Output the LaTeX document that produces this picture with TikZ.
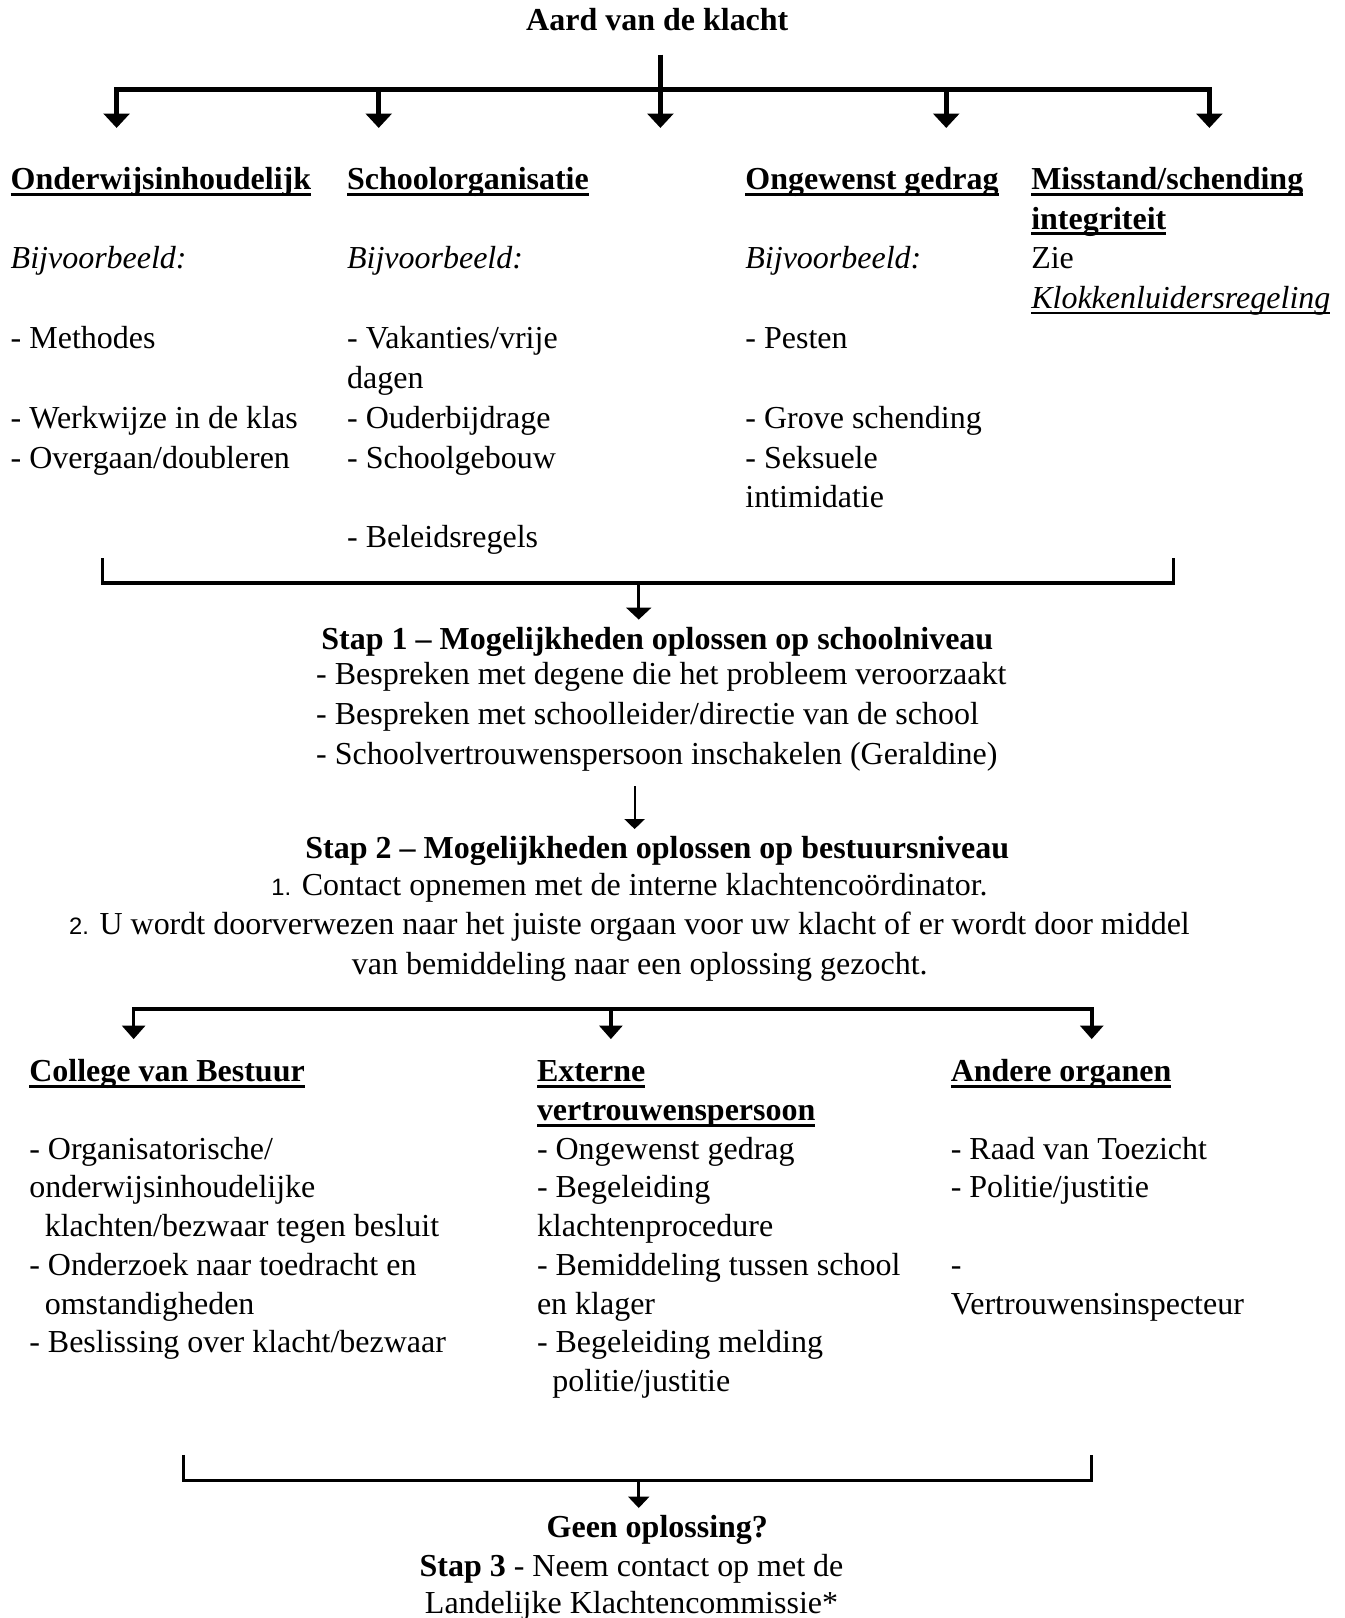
\documentclass[tikz,border=0pt]{standalone}
\usepackage{fontspec}
\setmainfont{Liberation Serif}
\newfontfamily\nrfont{Liberation Sans}
\usetikzlibrary{arrows.meta}
\newsavebox{\kopbox}
\newcommand{\kop}[1]{\sbox{\kopbox}{\bfseries #1}\rlap{\rule[-3.1pt]{\wd\kopbox}{1.45pt}}\usebox{\kopbox}}
\newcommand{\regeling}[1]{\sbox{\kopbox}{\itshape #1}\rlap{\rule[-2.6pt]{\wd\kopbox}{0.9pt}}\usebox{\kopbox}}
\newcommand{\nr}[1]{{\nrfont\fontsize{11.5}{12}\selectfont #1}}
\newcommand{\eerst}{\rule{0pt}{12pt}}
\begin{document}
\begin{tikzpicture}[x=0.5pt,y=-0.5pt,
    tekst/.style={inner xsep=0pt, font=\fontsize{15.5}{19.3}\selectfont},
    kolom/.style={tekst, anchor=north west, inner ysep=0pt, align=left},
    laag/.style={font=\fontsize{15.5}{18.75}\selectfont},
    vet/.style={tekst, anchor=base, font=\fontsize{15.5}{19.3}\selectfont\bfseries},
    midden/.style={tekst, anchor=north, inner ysep=0pt, align=center}]
  \useasboundingbox[fill=white] (0,0) rectangle (1303,1568);

  \node[vet] (aard) at (637,29.5) {Aard van de klacht};
  \coordinate (stam) at (640,53);
  \foreach \x [count=\i] in {113,367,640,917,1172} {
    \coordinate (t\i) at (\x,87);
    \coordinate (p\i) at (\x,124);
  }
  \draw[line width=2.4pt] (stam) -- (t3);
  \draw[line width=2.4pt, line cap=rect] (t1) -- (t5);
  \foreach \i in {1,...,5}
    \draw[line width=2.4pt, -{Triangle[width=12.5pt,length=7pt]}] (t\i) -- (p\i);

  \node[kolom] (onderwijs) at (10,159) {\eerst\kop{Onderwijsinhoudelijk}\\[19.3pt]
    \textit{Bijvoorbeeld:}\\[19.3pt] - Methodes\\[19.3pt] - Werkwijze in de klas\\ - Overgaan/doubleren};
  \node[kolom] (school) at (336,159) {\eerst\kop{Schoolorganisatie}\\[19.3pt]
    \textit{Bijvoorbeeld:}\\[19.3pt] - Vakanties/vrije\\ dagen\\ - Ouderbijdrage\\ - Schoolgebouw\\[19.3pt] - Beleidsregels};
  \node[kolom] (gedrag) at (722,159) {\eerst\kop{Ongewenst gedrag}\\[19.3pt]
    \textit{Bijvoorbeeld:}\\[19.3pt] - Pesten\\[19.3pt] - Grove schending\\ - Seksuele\\ intimidatie};
  \node[kolom] (misstand) at (999,159) {\eerst\kop{Misstand/schending}\\ \kop{integriteit}\\ Zie\\ \regeling{Klokkenluidersregeling}};

  \coordinate (h1) at (99,541);
  \coordinate (h2) at (99,565);
  \coordinate (h3) at (1137,565);
  \coordinate (h4) at (1137,541);
  \coordinate (m1) at (619,565);
  \draw[line width=1.6pt] (h1) -- (h2) -- (h3) -- (h4);
  \node[vet] (stap1) at (637,629) {Stap 1 – Mogelijkheden oplossen op schoolniveau};
  \draw[line width=1.6pt, -{Triangle[width=12pt,length=5.8pt]}] (m1) -- (m1 |- stap1.north);

  \node[kolom] (lijst1) at (306,639) {\eerst- Bespreken met degene die het probleem veroorzaakt\\
    - Bespreken met schoolleider/directie van de school\\ - Schoolvertrouwenspersoon inschakelen (Geraldine)};
  \coordinate (d1) at (615,762);
  \node[vet] (stap2) at (637,832) {Stap 2 – Mogelijkheden oplossen op bestuursniveau};
  \draw[line width=1pt, -{Triangle[width=9.7pt,length=4.8pt]}] (d1) -- (d1 |- stap2.north);
  \node[midden] (lijst2) at (610,843) {\eerst\nr{1.} Contact opnemen met de interne klachtencoördinator.\\
    \nr{2.} U wordt doorverwezen naar het juiste orgaan voor uw klacht of er wordt door middel\\
    \hspace*{10pt}van bemiddeling naar een oplossing gezocht.};

  \foreach \x [count=\i] in {129.5,592,1058} {
    \coordinate (f\i) at (\x,978);
    \coordinate (g\i) at (\x,1007);
  }
  \draw[line width=1.7pt, line cap=rect] (f1) -- (f3);
  \foreach \i in {1,2,3}
    \draw[line width=1.7pt, -{Triangle[width=11pt,length=6.5pt]}] (f\i) -- (g\i);

  \node[kolom, laag] (college) at (28,1024) {\eerst\kop{College van Bestuur}\\[18.75pt]
    - Organisatorische/\\ onderwijsinhoudelijke\\ \hspace*{7.5pt}klachten/bezwaar tegen besluit\\
    - Onderzoek naar toedracht en\\ \hspace*{7.5pt}omstandigheden\\ - Beslissing over klacht/bezwaar};
  \node[kolom, laag] (extern) at (520,1024) {\eerst\kop{Externe}\\ \kop{vertrouwenspersoon}\\
    - Ongewenst gedrag\\ - Begeleiding\\ klachtenprocedure\\ - Bemiddeling tussen school\\
    en klager\\ - Begeleiding melding\\ \hspace*{7.5pt}politie/justitie};
  \node[kolom, laag] (andere) at (921,1024) {\eerst\kop{Andere organen}\\[18.75pt]
    - Raad van Toezicht\\ - Politie/justitie\\[18.75pt] -\\ Vertrouwensinspecteur};

  \coordinate (b1) at (177.5,1410);
  \coordinate (b2) at (177.5,1435);
  \coordinate (b3) at (1058,1435);
  \coordinate (b4) at (1058,1410);
  \coordinate (b5) at (619,1435);
  \draw[line width=1.35pt] (b1) -- (b2) -- (b3) -- (b4);
  \node[vet] (geen) at (637,1490) {Geen oplossing?};
  \draw[line width=1.35pt, -{Triangle[width=10pt,length=5.5pt]}] (b5) -- (b5 |- geen.north);
  \node[midden, font=\fontsize{15.5}{18}\selectfont] (stap3) at (612,1503) {\eerst\textbf{Stap 3} - Neem contact op met de\\
    Landelijke Klachtencommissie*};
\end{tikzpicture}
\end{document}
